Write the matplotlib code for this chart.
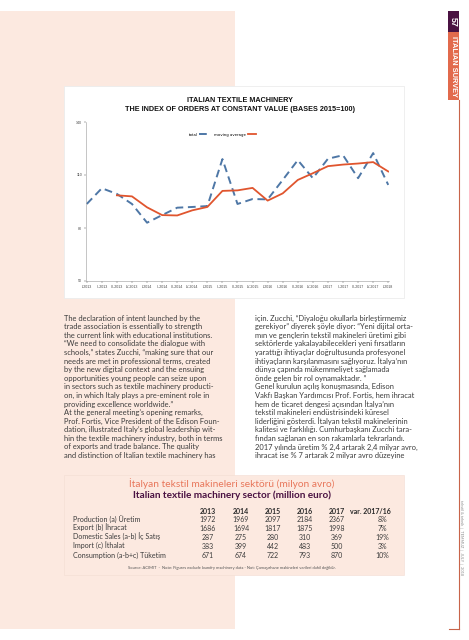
import matplotlib.pyplot as plt
from matplotlib.patches import Rectangle

# page size in pixels
W, H = 469, 640

# chart data: quarterly index of orders (2015 = 100)
quarters = ["I-2013", "II-2013", "III-2013", "IV-2013",
            "I-2014", "II-2014", "III-2014", "IV-2014",
            "I-2015", "II-2015", "III-2015", "IV-2015",
            "I-2016", "II-2016", "III-2016", "IV-2016",
            "I-2017", "II-2017", "III-2017", "IV-2017", "I-2018"]
total = [93.6, 102.5, 99.3, 93.6, 83.0, 87.3, 91.5, 91.9, 92.4, 119.0,
         93.6, 96.4, 96.2, 107.2, 118.4, 108.2, 119.2, 121.2, 108.2, 122.4, 104.4]
moving_avg = [None, None, 98.5, 97.9, 91.7, 87.3, 87.1, 90.0, 91.9, 101.0,
              101.3, 102.7, 95.5, 99.6, 107.2, 111.0, 115.0, 115.9, 116.5, 117.3, 112.0]
y_ticks = [50, 80, 110, 140]

# table data
years = ["2013", "2014", "2015", "2016", "2017"]
row_labels = ["Production (a) Üretim", "Export (b) İhracat",
              "Domestic Sales (a-b) İç Satış", "Import (c) İthalat",
              "Consumption (a-b+c) Tüketim"]
table_values = [[1972, 1969, 2097, 2184, 2367],
                [1686, 1694, 1817, 1875, 1998],
                [287, 275, 280, 310, 369],
                [383, 399, 442, 483, 500],
                [671, 674, 722, 793, 870]]
var_values = ["8%", "7%", "19%", "3%", "10%"]

left_text = [
    "The declaration of intent launched by the",
    "trade association is essentially to strength",
    "the current link with educational institutions.",
    "\u201cWe need to consolidate the dialogue with",
    "schools,\u201d states Zucchi, \u201cmaking sure that our",
    "needs are met in professional terms, created",
    "by the new digital context and the ensuing",
    "opportunities young people can seize upon",
    "in sectors such as textile machinery producti-",
    "on, in which Italy plays a pre-eminent role in",
    "providing excellence worldwide.\u201d",
    "At the general meeting\u2019s opening remarks,",
    "Prof. Fortis, Vice President of the Edison Foun-",
    "dation, illustrated Italy\u2019s global leadership wit-",
    "hin the textile machinery industry, both in terms",
    "of exports and trade balance. The quality",
    "and distinction of Italian textile machinery has",
]
right_text = [
    "için. Zucchi, \u201cDiyaloğu okullarla birleştirmemiz",
    "gerekiyor\u201d diyerek şöyle diyor: \u201cYeni dijital orta-",
    "mın ve gençlerin tekstil makineleri üretimi gibi",
    "sektörlerde yakalayabilecekleri yeni fırsatların",
    "yarattığı ihtiyaçlar doğrultusunda profesyonel",
    "ihtiyaçların karşılanmasını sağlıyoruz. İtalya\u2019nın",
    "dünya çapında mükemmeliyet sağlamada",
    "önde gelen bir rol oynamaktadır. \u201d",
    "Genel kurulun açılış konuşmasında, Edison",
    "Vakfı Başkan Yardımcısı Prof. Fortis, hem ihracat",
    "hem de ticaret dengesi açısından İtalya\u2019nın",
    "tekstil makineleri endüstrisindeki küresel",
    "liderliğini gösterdi. İtalyan tekstil makinelerinin",
    "kalitesi ve farklılığı. Cumhurbaşkanı Zucchi tara-",
    "fından sağlanan en son rakamlarla tekrarlandı.",
    "2017 yılında üretim % 2,4 artarak 2,4 milyar avro,",
    "ihracat ise % 7 artarak 2 milyar avro düzeyine",
]

PEACH = "#fce9e0"
ORANGE = "#e26a4c"
PURPLE = "#4a1242"
TEXT = "#3c3c3c"
BODY_FONT = ["Lato", "DejaVu Sans"]
CHART_FONT = ["Liberation Sans", "DejaVu Sans"]


def px_box(x0, y0, x1, y1):
    # pixel box (top-left origin) -> figure fraction rect
    return [x0 / W, 1 - y1 / H, (x1 - x0) / W, (y1 - y0) / H]


fig = plt.figure(figsize=(W / 100, H / 100), dpi=100)
fig.patch.set_facecolor("white")

# background layer in pixel coordinates
bg = fig.add_axes([0, 0, 1, 1], zorder=0)
bg.set_xlim(0, W)
bg.set_ylim(H, 0)
bg.axis("off")

bg.add_patch(Rectangle((0, 11), 235, 618, facecolor=PEACH, edgecolor="none"))
bg.add_patch(Rectangle((64, 86), 340, 212, facecolor="white", edgecolor="#ececec", lw=0.6))
bg.add_patch(Rectangle((64, 475), 340, 100, facecolor=PEACH, edgecolor="#f3ddd3", lw=0.4))

# side tab
bg.add_patch(Rectangle((448, 11), 10.5, 21, facecolor=PURPLE, edgecolor="none"))
bg.add_patch(Rectangle((448, 32), 10.5, 68, facecolor=ORANGE, edgecolor="none"))
bg.plot([458.5, 458.5], [100, 629], color="#c8644a", lw=0.8)
bg.plot([449, 458.5], [629, 629], color="#c8644a", lw=0.8)
bg.text(453.3, 21.5, "57", rotation=270, color="white", fontsize=6.5, fontweight="bold",
        ha="center", va="center", family=CHART_FONT)
bg.text(453.3, 66, "ITALIAN SURVEY", rotation=270, color="white", fontsize=5.3,
        fontweight="bold", ha="center", va="center", family=CHART_FONT)
bg.text(461, 538, "tekstil & teknik  |  TEMMUZ  |  JULY  |  2018", rotation=270,
        color="#8a8a8a", fontsize=2.8, ha="center", va="center", family=BODY_FONT)

# chart title
bg.text(240, 101, "ITALIAN TEXTILE MACHINERY", fontsize=5.2, fontweight="bold",
        ha="center", va="center", family=CHART_FONT, color="#111111")
bg.text(240, 109.5, "THE INDEX OF ORDERS AT CONSTANT VALUE (BASES 2015=100)", fontsize=5.2,
        fontweight="bold", ha="center", va="center", family=CHART_FONT, color="#111111")

# body text columns
line_h = 8.6
for i, line in enumerate(left_text):
    bg.text(64, 318 + i * line_h, line, fontsize=5.45, color=TEXT, ha="left",
            va="center", family=BODY_FONT)
for i, line in enumerate(right_text):
    bg.text(255, 318 + i * line_h, line, fontsize=5.45, color=TEXT, ha="left",
            va="center", family=BODY_FONT)

# table
bg.text(232, 484, "İtalyan tekstil makineleri sektörü (milyon avro)", fontsize=7.3,
        color="#e8765a", ha="center", va="center", family=BODY_FONT)
bg.text(232, 495, "Italian textile machinery sector (million euro)", fontsize=7.2,
        color=PURPLE, fontweight="bold", ha="center", va="center", family=BODY_FONT)
col_x = [208, 241, 273, 305, 337]
for x, yr in zip(col_x, years):
    bg.text(x, 511, yr, fontsize=5, fontweight="bold", color="#2a2a2a",
            ha="center", va="center", family=BODY_FONT)
bg.text(370, 511, "var. 2017/16", fontsize=5, fontweight="bold", color="#2a2a2a",
        ha="center", va="center", family=BODY_FONT)
for r, (lab, vals, var) in enumerate(zip(row_labels, table_values, var_values)):
    y = 519.5 + r * 8.9
    bg.text(73, y, lab, fontsize=5.1, color=TEXT, ha="left", va="center", family=BODY_FONT)
    for x, v in zip(col_x, vals):
        bg.text(x, y, str(v), fontsize=5, color=TEXT, ha="center", va="center",
                family=BODY_FONT)
    bg.text(382, y, var, fontsize=5, color=TEXT, ha="center", va="center", family=BODY_FONT)
bg.text(232, 568, "Source: ACIMIT  -  Note: Figures exclude laundry machinery data - "
        "Not: Çamaşırhane makineleri verileri dahil değildir.", fontsize=3,
        color="#555555", ha="center", va="center", family=BODY_FONT)

# the line chart
ax = fig.add_axes(px_box(86, 122, 389, 281), zorder=1)
ax.patch.set_alpha(0)
x = list(range(len(quarters)))
ma_x = [i for i, v in zip(x, moving_avg) if v is not None]
ma_y = [v for v in moving_avg if v is not None]
ax.plot(x, total, color="#4e77a6", lw=1.4, dashes=(4, 2.4), label="total")
ax.plot(ma_x, ma_y, color="#e0552e", lw=1.3, label="moving average")
ax.set_xlim(-0.05, 20.05)
ax.set_ylim(50, 140)
ax.set_yticks(y_ticks)
ax.set_xticks(x)
ax.set_xticklabels(quarters)
ax.tick_params(axis="both", labelsize=2.6, colors="#444444", length=1.2, width=0.3, pad=1.5)
for s in ["top", "right"]:
    ax.spines[s].set_visible(False)
for s in ["left", "bottom"]:
    ax.spines[s].set_color("#9a9a9a")
    ax.spines[s].set_linewidth(0.4)
for lab in ax.get_xticklabels() + ax.get_yticklabels():
    lab.set_family(CHART_FONT)
ax.legend(loc="upper center", bbox_to_anchor=(0.45, 0.955), ncol=2, frameon=False,
          fontsize=2.8, markerfirst=False, handlelength=2.2, columnspacing=1.5,
          handletextpad=0.5)

fig.savefig("out.png", dpi=100)
